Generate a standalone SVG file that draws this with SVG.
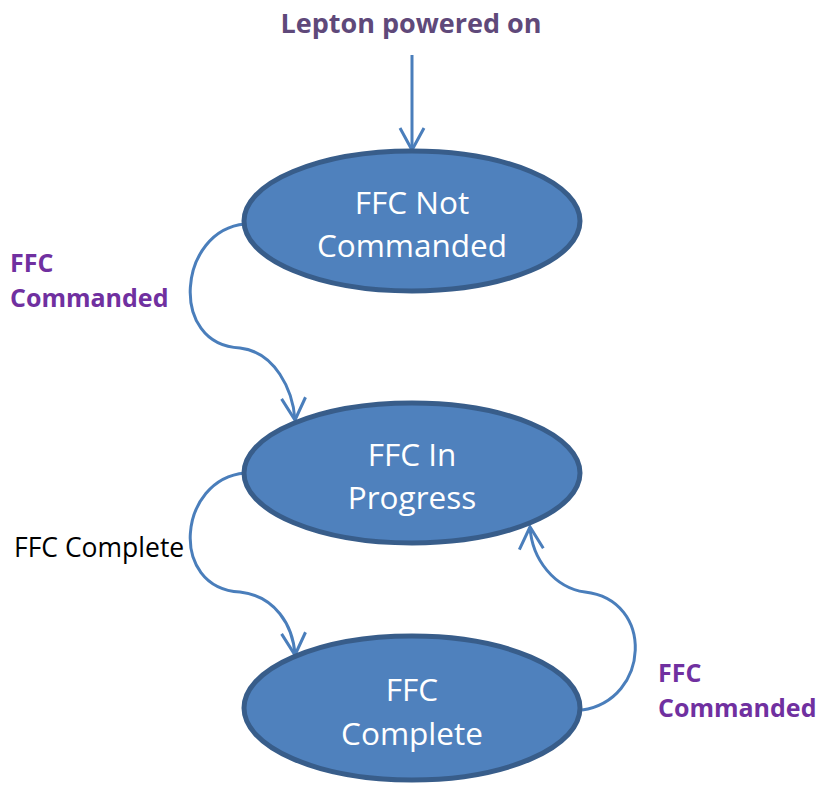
<svg xmlns="http://www.w3.org/2000/svg" width="823" height="785" viewBox="0 0 823 785">
<defs>
<style>
.state{fill:#4F81BD;stroke:#385D8A;stroke-width:5}
.stxt{fill:#FFFFFF;font-family:"Open Sans",Lato,sans-serif;font-size:31.5px;text-anchor:middle}
.conn{fill:none;stroke:#4A7EBB;stroke-width:3}
.lbl{font-family:"Open Sans",Lato,sans-serif;font-size:25px;font-weight:bold;fill:#7030A0}
</style>
<marker id="arr" markerUnits="userSpaceOnUse" markerWidth="30" markerHeight="30" viewBox="-26 -15 30 30" refX="0" refY="0" orient="auto" overflow="visible">
<path d="M-22,-12 L0,0 L-22,12" fill="none" stroke="#4A7EBB" stroke-width="3"/>
</marker>
</defs>
<rect width="823" height="785" fill="#FFFFFF"/>
<g id="connectors">
<path class="conn" d="M412,55 L412,150" marker-end="url(#arr)"/>
<path class="conn" d="M245,224 C178,230 168,345 240,348 C275,352 293,390 295,420" marker-end="url(#arr)"/>
<path class="conn" d="M245,473 C178,479 168,588 240,592 C275,596 293,625 295,655" marker-end="url(#arr)"/>
<path class="conn" d="M582,710 C650,700 655,600 585,592 C555,588 532,560 530,527" marker-end="url(#arr)"/>
</g>
<g id="start-label">
<text x="411" y="33" font-family="'Open Sans',Lato,sans-serif" font-size="27" font-weight="bold" fill="#5F497A" text-anchor="middle">Lepton powered on</text>
</g>
<g id="node-not-commanded">
<ellipse class="state" cx="412" cy="221" rx="168" ry="70"/>
<text class="stxt" x="412" y="214">FFC Not</text>
<text class="stxt" x="412" y="257">Commanded</text>
</g>
<g id="node-in-progress">
<ellipse class="state" cx="412" cy="473" rx="168" ry="70"/>
<text class="stxt" x="412" y="466">FFC In</text>
<text class="stxt" x="412" y="509">Progress</text>
</g>
<g id="node-complete">
<ellipse class="state" cx="412" cy="708" rx="168" ry="72"/>
<text class="stxt" x="412" y="701">FFC</text>
<text class="stxt" x="412" y="745">Complete</text>
</g>
<g id="labels">
<text class="lbl" x="10" y="272">FFC</text>
<text class="lbl" x="10" y="307">Commanded</text>
<text x="14" y="557" font-family="'Open Sans',Lato,sans-serif" font-size="26.5" fill="#000000">FFC Complete</text>
<text class="lbl" x="658" y="682">FFC</text>
<text class="lbl" x="658" y="717">Commanded</text>
</g>
</svg>
